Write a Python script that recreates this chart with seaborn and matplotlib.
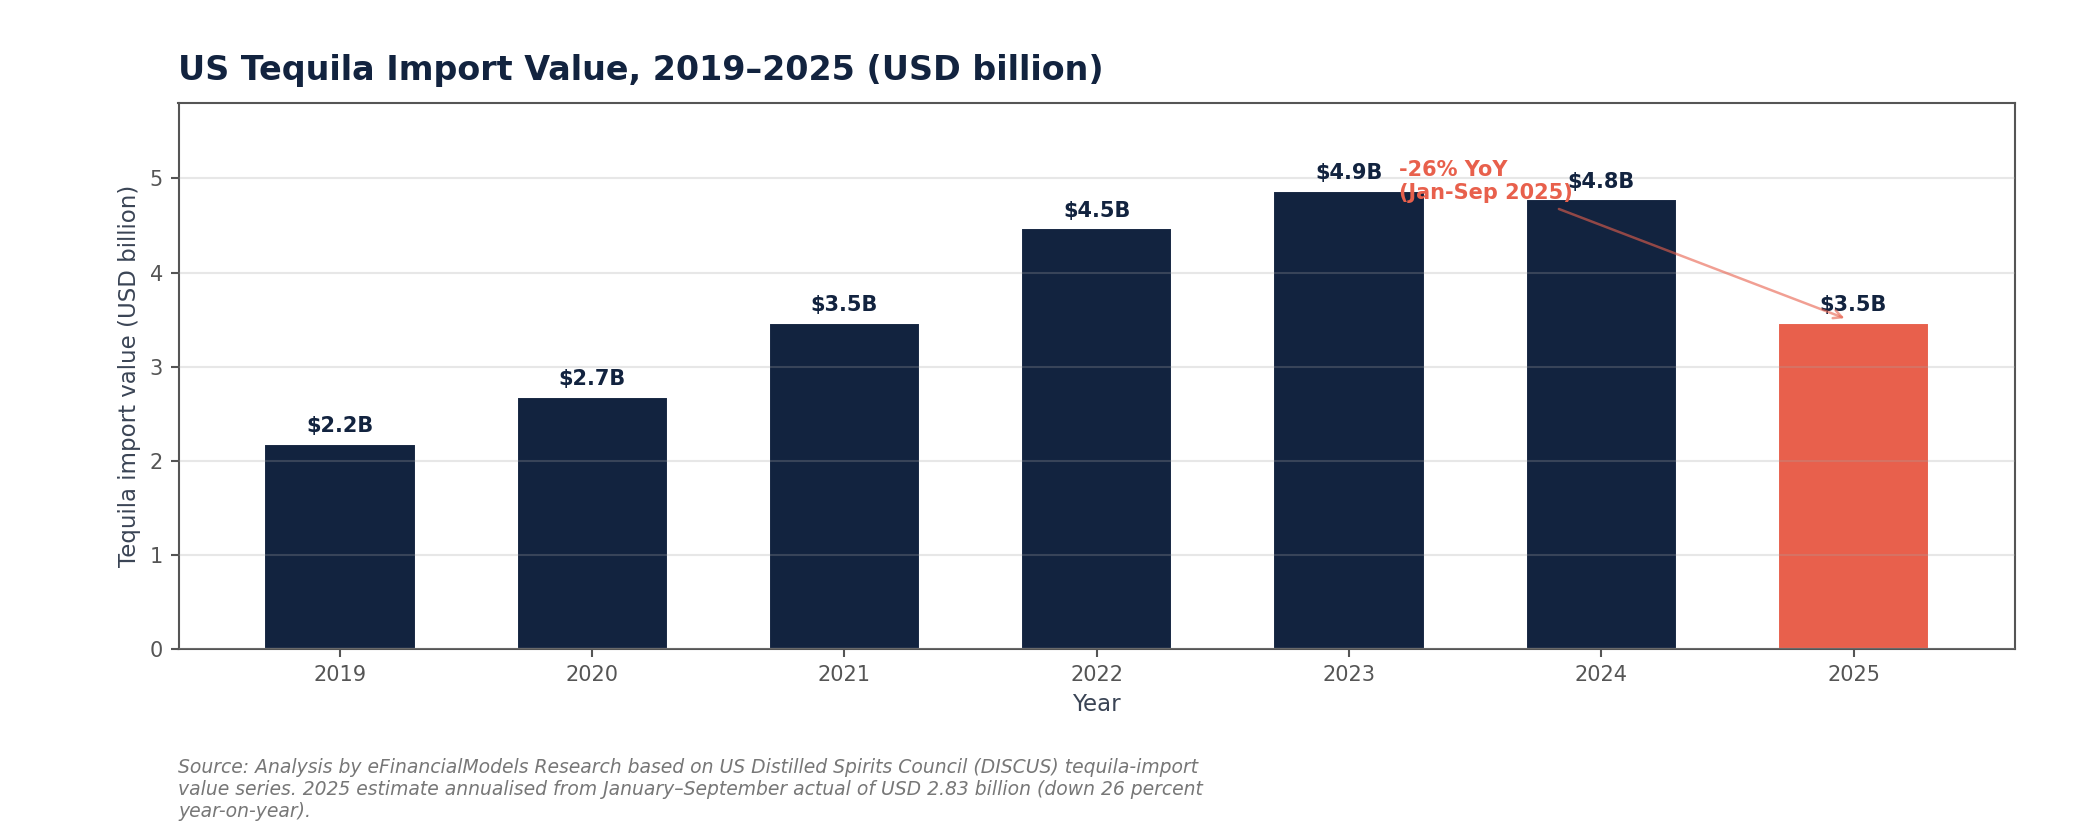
import matplotlib
matplotlib.use('Agg')
import matplotlib.pyplot as plt
import seaborn as sns
import pandas as pd

# Data
years = ['2019', '2020', '2021', '2022', '2023', '2024', '2025']
import_value = [2.18, 2.68, 3.47, 4.47, 4.87, 4.78, 3.47]
value_labels = ['$2.2B', '$2.7B', '$3.5B', '$4.5B', '$4.9B', '$4.8B', '$3.5B']
bar_kind = ['actual', 'actual', 'actual', 'actual', 'actual', 'actual', 'estimate']

navy = '#12233F'
red = '#E8604C'

df = pd.DataFrame({'Year': years, 'Value': import_value, 'Kind': bar_kind})

sns.set_style('white')
plt.rcParams['font.family'] = ['DejaVu Sans']

fig, ax = plt.subplots(figsize=(14, 5.5), dpi=150)
fig.subplots_adjust(left=0.085, right=0.9595, top=0.875, bottom=0.213)

sns.barplot(data=df, x='Year', y='Value', hue='Kind',
            palette={'actual': navy, 'estimate': red},
            width=0.6, dodge=False, legend=False, saturation=1, ax=ax)

# bar labels
for i, (v, lab) in enumerate(zip(import_value, value_labels)):
    ax.text(i, v + 0.08, lab, ha='center', va='bottom', fontsize=10,
            fontweight='bold', color=navy)

# YoY annotation
ax.annotate('-26% YoY\n(Jan-Sep 2025)', xy=(5.98, 3.5), xytext=(4.2, 5.2),
            ha='left', va='top', fontsize=10, fontweight='bold', color=red,
            arrowprops=dict(arrowstyle='->', color=red, alpha=0.6, lw=1.2))

ax.set_xlim(-0.64, 6.64)
ax.set_ylim(0, 5.8)
ax.set_yticks([0, 1, 2, 3, 4, 5])
ax.grid(axis='y', color='#a6a6a6', linewidth=1.0, alpha=0.26)
ax.set_axisbelow(False)

for sp in ax.spines.values():
    sp.set_visible(True)
    sp.set_color('#555555')
    sp.set_linewidth(1.0)

ax.tick_params(axis='both', labelsize=10, colors='#555555', length=4,
               width=1, bottom=True, left=True)
ax.set_xlabel('Year', fontsize=11, color='#3A4455')
ax.set_ylabel('Tequila import value (USD billion)', fontsize=11, color='#3A4455')

ax.set_title('US Tequila Import Value, 2019\u20132025 (USD billion)', loc='left',
             fontsize=16, fontweight='bold', color=navy, pad=11)

fig.text(0.085, 0.005,
         'Source: Analysis by eFinancialModels Research based on US Distilled Spirits Council (DISCUS) tequila-import\n'
         'value series. 2025 estimate annualised from January\u2013September actual of USD 2.83 billion (down 26 percent\n'
         'year-on-year).',
         ha='left', va='bottom', fontsize=9, style='italic', color='#777777')

fig.savefig('out.png', dpi=150)
